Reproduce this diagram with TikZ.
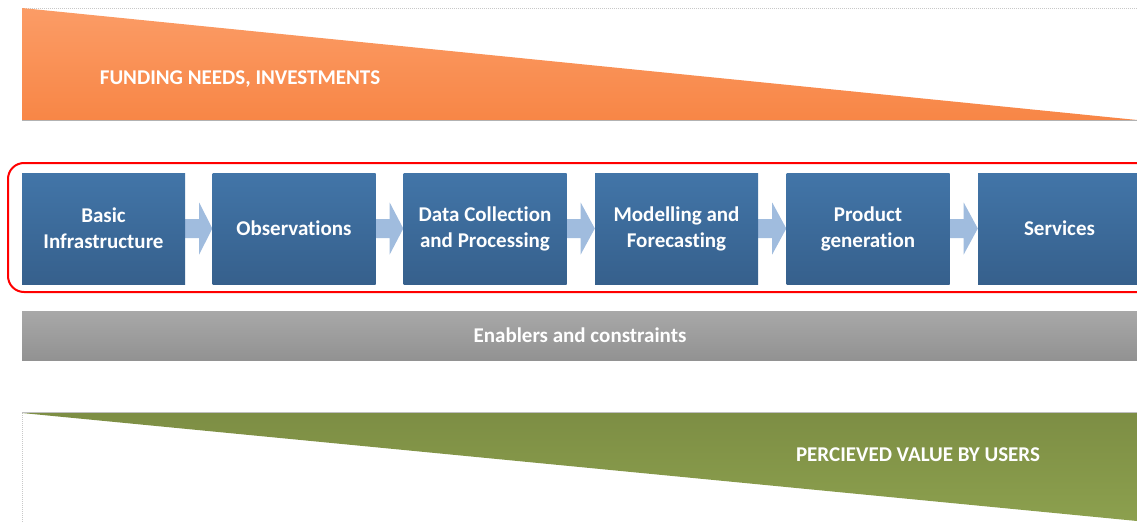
\documentclass[tikz,border=0pt]{standalone}
\usepackage{fontspec}
\setmainfont[Ligatures=CommonOff]{Carlito}
\usetikzlibrary{calc,backgrounds}
\definecolor{orangeT}{RGB}{251,156,102}
\definecolor{orangeB}{RGB}{248,134,70}
\definecolor{blueT}{RGB}{66,117,168}
\definecolor{blueB}{RGB}{54,96,140}
\definecolor{arrowc}{RGB}{160,188,222}
\definecolor{grayT}{RGB}{168,168,168}
\definecolor{grayB}{RGB}{146,146,146}
\definecolor{greenT}{RGB}{125,142,68}
\definecolor{greenB}{RGB}{140,160,78}
\definecolor{dotc}{RGB}{200,200,200}
\tikzset{
  stagebox/.style={minimum width=163pt,minimum height=111pt,inner sep=0pt,
    top color=blueT,bottom color=blueB,draw=none,text=white,
    font=\bfseries\fontsize{21}{26}\selectfont,align=center},
  labeltext/.style={text=white,font=\bfseries\fontsize{21}{26}\selectfont,inner sep=0pt},
  flowarrow/.style={fill=arrowc,draw=none},
}
\begin{document}
\begin{tikzpicture}[x=1pt,y=-1pt]
\useasboundingbox (0,0) rectangle (1137,522);
% top funding wedge
\draw[dotc,densely dotted,line width=1pt] (22,8) -- (1137,8);
\shade[top color=orangeT,bottom color=orangeB] (22,8) -- (1137,120) -- (22,120) -- cycle;
\draw[gray!60,line width=0.8pt] (22,120.5) -- (1137,120.5);
\node[labeltext] (funding) at (240,79) {FUNDING NEEDS, INVESTMENTS};
% value chain
\draw[red,line width=2pt,rounded corners=16pt] (8,163) rectangle (1160,292);
\node[stagebox] (b1) at (103.5,228.5) {Basic\\Infrastructure};
\node[stagebox] (b2) at (294,228.5) {Observations};
\node[stagebox] (b3) at (485,228.5) {Data Collection\\and Processing};
\node[stagebox] (b4) at (676.5,228.5) {Modelling and\\Forecasting};
\node[stagebox] (b5) at (868,228.5) {Product\\generation};
\node[stagebox] (b6) at (1059.5,228.5) {Services};
\begin{scope}[on background layer]
\foreach \a/\b in {b1/b2,b2/b3,b3/b4,b4/b5,b5/b6}{
  \fill[flowarrow] ($(\a.east)+(0,-9.5)$) -- ($(\a.east)+(14,-9.5)$) -- ($(\a.east)+(14,-26)$)
    -- (\b.west) -- ($(\a.east)+(14,26)$) -- ($(\a.east)+(14,9.5)$) -- ($(\a.east)+(0,9.5)$) -- cycle;
}
\end{scope}
% enablers bar
\shade[top color=grayT,bottom color=grayB] (22,311) rectangle (1137,360);
\node[labeltext] (enablers) at (580,335) {Enablers and constraints};
% bottom value wedge
\draw[dotc,densely dotted,line width=1pt] (22,413) -- (22,522);
\shade[top color=greenT,bottom color=greenB] (22,413) -- (1137,413) -- (1137,521) -- cycle;
\draw[gray!50,line width=0.8pt] (22,412.5) -- (1137,412.5);
\node[labeltext] (value) at (918,455) {PERCIEVED VALUE BY USERS};
\end{tikzpicture}
\end{document}
